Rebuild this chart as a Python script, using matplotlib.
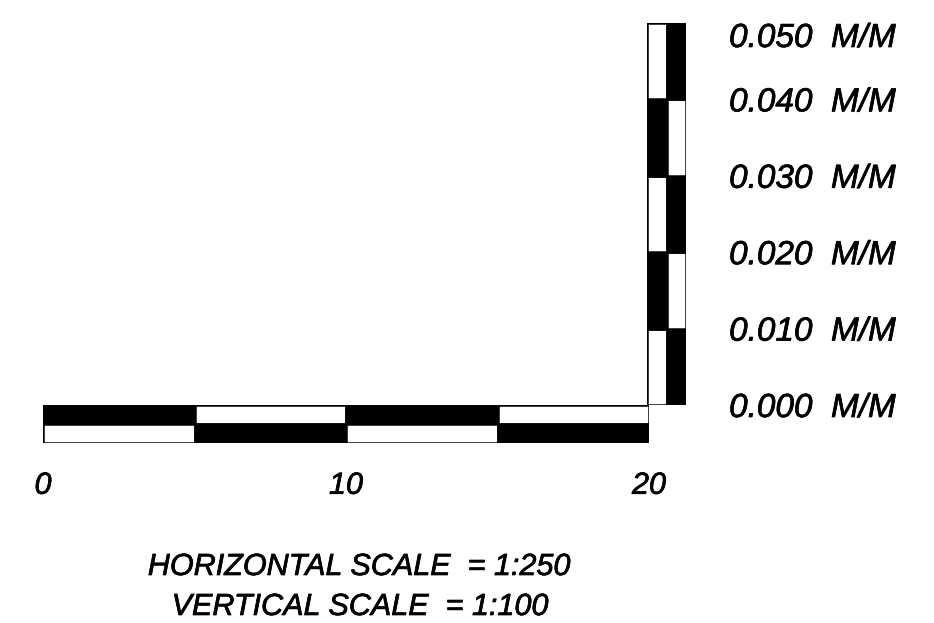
import numpy as np
import matplotlib
matplotlib.use("Agg")
import matplotlib.pyplot as plt
import matplotlib.patheffects as pe

# --- datos de la escala ---
h_edges = [0, 5, 10, 15, 20]                 # metros
h_ticks = [0, 10, 20]
h_labels = ["0", "10", "20"]
v_edges = [0.000, 0.010, 0.020, 0.030, 0.040, 0.050]
v_labels = ["0.000  M/M", "0.010  M/M", "0.020  M/M",
            "0.030  M/M", "0.040  M/M", "0.050  M/M"]
textos = ["HORIZONTAL SCALE  = 1:250", "VERTICAL SCALE  = 1:100"]

plt.rcParams['font.family'] = ['Liberation Sans', 'DejaVu Sans']
plt.rcParams['font.style'] = 'italic'

# trazo un poco mas grueso, como la fuente de plotter
trazo = [pe.withStroke(linewidth=0.5, foreground='black')]

fig = plt.figure(figsize=(9.34, 6.23), dpi=100)

# --- barra horizontal ---
axh = fig.add_axes([43/934, (623-443)/623, 606/934, 38/623])
for i in range(len(h_edges) - 1):
    w = h_edges[i+1] - h_edges[i]
    arriba = 'black' if i % 2 == 0 else 'white'
    abajo = 'white' if i % 2 == 0 else 'black'
    axh.bar(h_edges[i], 1, width=w, bottom=1, align='edge',
            color=arriba, edgecolor='black', linewidth=1.8)
    axh.bar(h_edges[i], 1, width=w, bottom=0, align='edge',
            color=abajo, edgecolor='black', linewidth=1.8)
axh.set_xlim(h_edges[0], h_edges[-1])
axh.set_ylim(0, 2)
axh.set_xticks(h_ticks)
axh.set_xticklabels(h_labels, fontsize=22)
axh.set_yticks([])
axh.tick_params(axis='x', length=0, pad=20)
for t in axh.get_xticklabels():
    t.set_path_effects(trazo)
for s in axh.spines.values():
    s.set_visible(False)

# --- barra vertical ---
axv = fig.add_axes([647/934, (623-405)/623, 39/934, 382/623])
for i in range(len(v_edges) - 1):
    h = v_edges[i+1] - v_edges[i]
    izq = 'white' if i % 2 == 0 else 'black'
    der = 'black' if i % 2 == 0 else 'white'
    axv.bar(0, h, width=1, bottom=v_edges[i], align='edge',
            color=izq, edgecolor='black', linewidth=1.8)
    axv.bar(1, h, width=1, bottom=v_edges[i], align='edge',
            color=der, edgecolor='black', linewidth=1.8)
axv.set_xlim(0, 2)
axv.set_ylim(v_edges[0], v_edges[-1])
axv.set_xticks([])
axv.set_yticks(v_edges)
axv.set_yticklabels(v_labels, fontsize=24)
axv.yaxis.tick_right()
axv.tick_params(axis='y', length=0, pad=31)
etiquetas = axv.get_yticklabels()
for t in etiquetas:
    t.set_path_effects(trazo)
etiquetas[-1].set_verticalalignment('top')
for s in axv.spines.values():
    s.set_visible(False)

# --- textos de escala ---
fig.text(359/934, (623-567)/623, textos[0], ha='center', va='center',
         fontsize=22, path_effects=trazo)
fig.text(360/934, (623-607)/623, textos[1], ha='center', va='center',
         fontsize=22, path_effects=trazo)

fig.savefig("out.png", dpi=100)
